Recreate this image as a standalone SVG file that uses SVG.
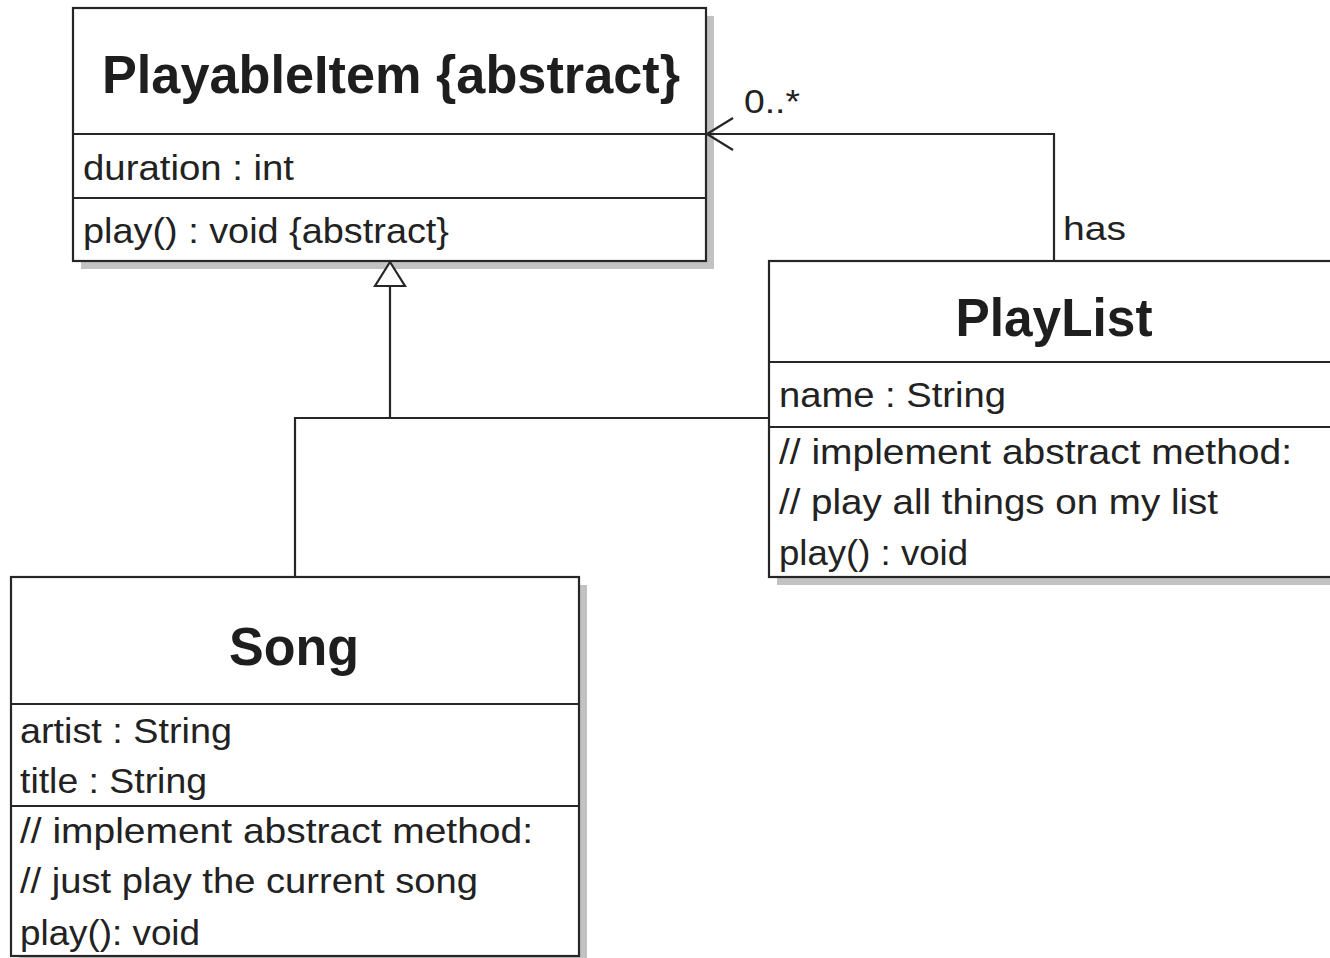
<svg xmlns="http://www.w3.org/2000/svg" width="1330" height="958" viewBox="0 0 1330 958">
  <style>
    .box { fill: #ffffff; stroke: #262626; stroke-width: 2.2; }
    .shadow { fill: #c2c2c2; }
    .div { stroke: #262626; stroke-width: 2.2; }
    .title { font-family: "Liberation Sans", Arial, sans-serif; font-weight: bold; font-size: 54px; fill: #1e1e1e; text-anchor: middle; }
    .txt { font-family: "Liberation Sans", Arial, sans-serif; font-size: 35px; fill: #222222; }
    .lbl { font-family: "Liberation Sans", Arial, sans-serif; font-size: 34px; fill: #222222; }
    .line { fill: none; stroke: #262626; stroke-width: 2.2; }
  </style>
  <rect width="1330" height="958" fill="#ffffff"/>

  <!-- abstract base class -->
  <g id="playable-item">
    <rect class="shadow" x="81" y="16" width="633" height="253"/>
    <rect class="box" x="73" y="8" width="633" height="253"/>
    <line class="div" x1="73" y1="134" x2="706" y2="134"/>
    <line class="div" x1="73" y1="198" x2="706" y2="198"/>
    <text class="title" x="391" y="93" textLength="578" lengthAdjust="spacingAndGlyphs">PlayableItem {abstract}</text>
    <text class="txt" x="83" y="180" textLength="211" lengthAdjust="spacingAndGlyphs">duration : int</text>
    <text class="txt" x="83" y="243" textLength="366" lengthAdjust="spacingAndGlyphs">play() : void {abstract}</text>
  </g>

  <!-- playlist class -->
  <g id="playlist">
    <rect class="shadow" x="777" y="269" width="560" height="316"/>
    <rect class="box" x="769" y="261" width="570" height="316"/>
    <line class="div" x1="769" y1="362" x2="1330" y2="362"/>
    <line class="div" x1="769" y1="427" x2="1330" y2="427"/>
    <text class="title" x="1054" y="336" textLength="197" lengthAdjust="spacingAndGlyphs">PlayList</text>
    <text class="txt" x="779" y="407" textLength="227" lengthAdjust="spacingAndGlyphs">name : String</text>
    <text class="txt" x="779" y="464" textLength="513" lengthAdjust="spacingAndGlyphs">// implement abstract method:</text>
    <text class="txt" x="779" y="514" textLength="439" lengthAdjust="spacingAndGlyphs">// play all things on my list</text>
    <text class="txt" x="779" y="565" textLength="189" lengthAdjust="spacingAndGlyphs">play() : void</text>
  </g>

  <!-- song class -->
  <g id="song">
    <rect class="shadow" x="19" y="585" width="568" height="380"/>
    <rect class="box" x="11" y="577" width="568" height="379"/>
    <line class="div" x1="11" y1="704" x2="579" y2="704"/>
    <line class="div" x1="11" y1="806" x2="579" y2="806"/>
    <text class="title" x="294" y="665" textLength="130" lengthAdjust="spacingAndGlyphs">Song</text>
    <text class="txt" x="20" y="743" textLength="212" lengthAdjust="spacingAndGlyphs">artist : String</text>
    <text class="txt" x="20" y="793" textLength="187" lengthAdjust="spacingAndGlyphs">title : String</text>
    <text class="txt" x="20" y="843" textLength="513" lengthAdjust="spacingAndGlyphs">// implement abstract method:</text>
    <text class="txt" x="20" y="893" textLength="458" lengthAdjust="spacingAndGlyphs">// just play the current song</text>
    <text class="txt" x="20" y="945" textLength="180" lengthAdjust="spacingAndGlyphs">play(): void</text>
  </g>

  <!-- connectors -->
  <g id="connectors">
    <!-- generalization: Song and PlayList extend PlayableItem -->
    <polyline class="line" points="295,577 295,418 769,418"/>
    <line class="line" x1="390" y1="418" x2="390" y2="286"/>
    <polygon points="390,262 375,286 405,286" fill="#ffffff" stroke="#262626" stroke-width="2.2"/>
    <!-- association: PlayList has 0..* PlayableItem -->
    <polyline class="line" points="1054,261 1054,134 707,134"/>
    <polyline class="line" points="733,118 707,134 733,150"/>
    <text class="lbl" x="744" y="113" textLength="56" lengthAdjust="spacingAndGlyphs">0..*</text>
    <text class="lbl" x="1063" y="240" textLength="63" lengthAdjust="spacingAndGlyphs">has</text>
  </g>
</svg>
